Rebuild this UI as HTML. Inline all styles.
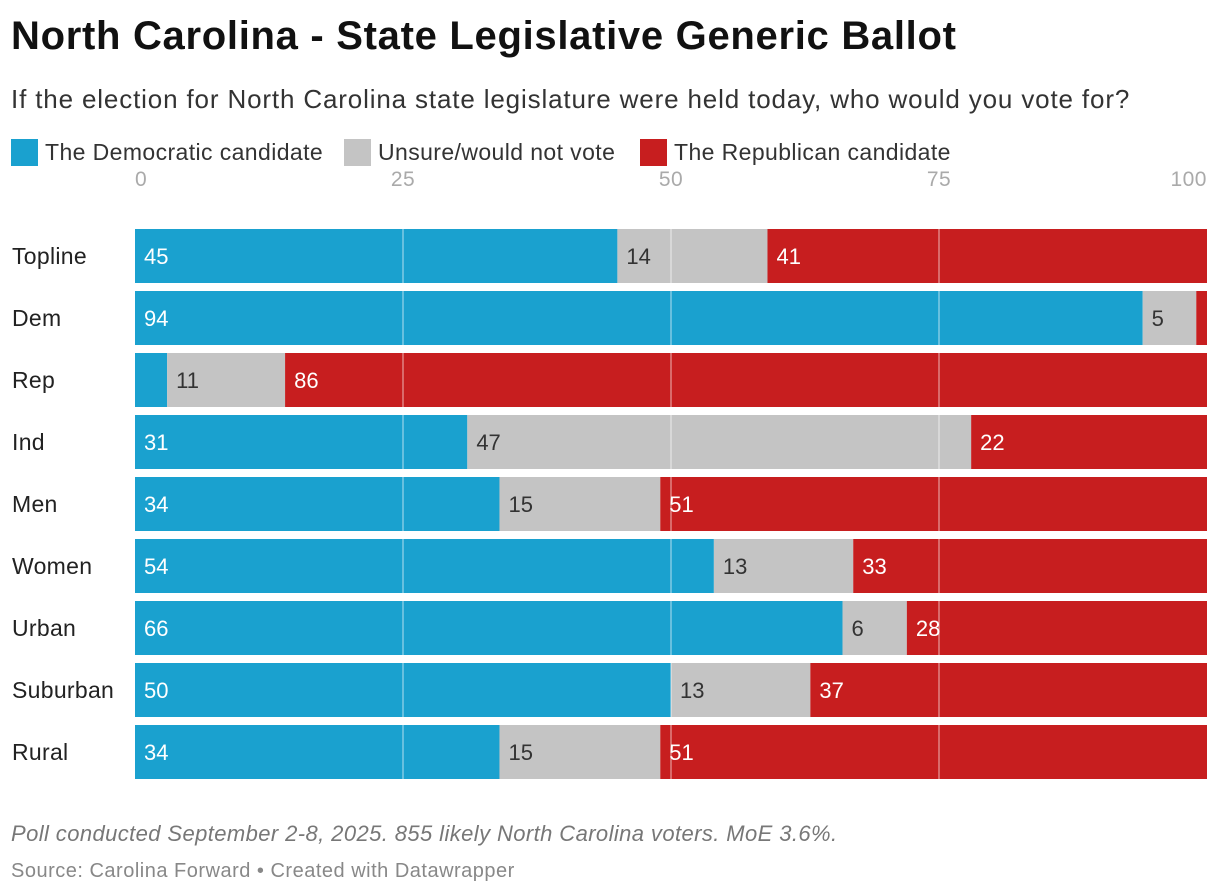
<!DOCTYPE html>
<html><head><meta charset="utf-8"><style>
body{margin:0;width:1220px;height:894px;background:#fff;font-family:"Liberation Sans",sans-serif;position:relative;overflow:hidden}
.t{position:absolute;white-space:nowrap}
</style></head><body>
<div class="t" style="left:11px;top:14px;font-size:40px;letter-spacing:0.7px;font-weight:bold;color:#111">North Carolina - State Legislative Generic Ballot</div>
<div class="t" style="left:11px;top:84px;font-size:26px;letter-spacing:0.85px;color:#333">If the election for North Carolina state legislature were held today, who would you vote for?</div>
<div>
<div class="t" style="left:11px;top:139px;font-size:23px;letter-spacing:0.4px;color:#333"><span style="display:inline-block;width:27px;height:27px;background:#1aa1cf;vertical-align:-6px;margin-right:7px"></span>The Democratic candidate</div>
<div class="t" style="left:344px;top:139px;font-size:23px;letter-spacing:0.4px;color:#333"><span style="display:inline-block;width:27px;height:27px;background:#c4c4c4;vertical-align:-6px;margin-right:7px"></span>Unsure/would not vote</div>
<div class="t" style="left:640px;top:139px;font-size:23px;letter-spacing:0.4px;color:#333"><span style="display:inline-block;width:27px;height:27px;background:#c71e1f;vertical-align:-6px;margin-right:7px"></span>The Republican candidate</div>
</div>
<svg id="chart" width="1220" height="894" style="position:absolute;left:0;top:0"></svg>
<div class="t" style="left:11px;top:821px;font-size:22px;letter-spacing:0.4px;font-style:italic;color:#777">Poll conducted September 2-8, 2025. 855 likely North Carolina voters. MoE 3.6%.</div>
<div class="t" style="left:11px;top:860px;font-size:20px;letter-spacing:0.5px;color:#888">Source: Carolina Forward • Created with Datawrapper</div>
<script>
const categories=["Topline","Dem","Rep","Ind","Men","Women","Urban","Suburban","Rural"];
const demValues=[45,94,3,31,34,54,66,50,34];
const unsureValues=[14,5,11,47,15,13,6,13,15];
const repValues=[41,1,86,22,51,33,28,37,51];
const ticks=[0,25,50,75,100];
const svg=document.getElementById('chart');
const NS='http://www.w3.org/2000/svg';
const x=v=>135+v*10.72;
const yTop=i=>229+i*62;
const H=54;
function mk(t,a){const e=document.createElementNS(NS,t);for(const k in a)e.setAttribute(k,a[k]);svg.appendChild(e);return e;}
ticks.forEach(t=>{
  const e=mk('text',{x:x(t),y:186,'text-anchor':t===100?'end':(t===0?'start':'middle'),'font-size':21,'letter-spacing':0.5,fill:'#aaa'});
  e.textContent=t;
  
  
});
const series=[[demValues,'#1aa1cf','#fff','dem'],[unsureValues,'#c4c4c4','#333','unsure'],[repValues,'#c71e1f','#fff','rep']];
categories.forEach((c,i)=>{
  const lb=mk('text',{x:12,y:yTop(i)+H/2+8,'font-size':23,'letter-spacing':0.3,fill:'#222'});
  lb.textContent=c;
  
  
  let acc=0;
  series.forEach(([vals,col,tc,nm])=>{
    const v=vals[i];
    const r=mk('rect',{x:x(acc),y:yTop(i),width:v*10.72,height:H,fill:col});
    
    
    if(v>=5){
      const t=mk('text',{x:x(acc)+9,y:yTop(i)+H/2+8,'font-size':22,fill:tc});
      t.textContent=v;
      
      
    }
    acc+=v;
  });
});
[25,50,75].forEach(t=>{
  const l=mk('line',{x1:x(t),x2:x(t),y1:195,y2:780,stroke:'rgba(255,255,255,0.45)','stroke-width':1.5});
  
  
});
</script>
</body></html>
